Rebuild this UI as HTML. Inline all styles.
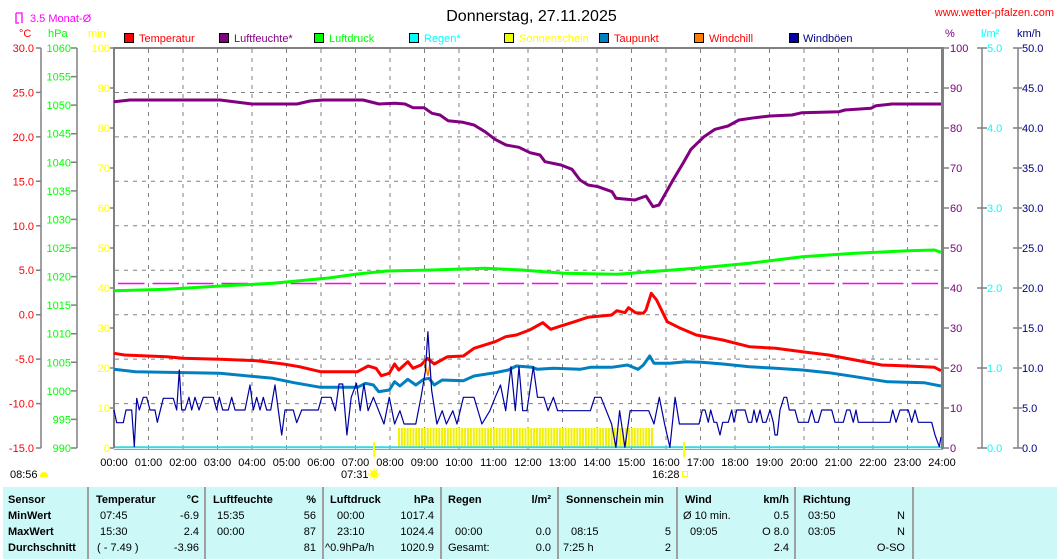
<!DOCTYPE html>
<html><head><meta charset="utf-8"><style>
html,body{margin:0;padding:0;background:#fff;}
svg{display:block;font-family:"Liberation Sans",Arial,sans-serif;}
</style></head><body>
<svg width="1058" height="559" viewBox="0 0 1058 559" xmlns="http://www.w3.org/2000/svg">
<defs>
<pattern id="sun" x="398" y="428" width="2.875" height="20" patternUnits="userSpaceOnUse"><rect x="0" y="0" width="2" height="20" fill="#f0f000"/></pattern>
</defs>
<rect width="1058" height="559" fill="#fff"/>

<!-- Title -->
<text x="531.5" y="21" font-size="16" text-anchor="middle" fill="#000">Donnerstag, 27.11.2025</text>
<text x="1054" y="16" font-size="11" text-anchor="end" fill="#ff0000">www.wetter-pfalzen.com</text>

<!-- top-left monthly avg -->
<path d="M16 13 H22 V23 M16 13 V23 H19" stroke="#ff00ff" stroke-width="1.3" fill="none"/>
<text x="30" y="22" font-size="11" fill="#ff00ff">3.5 Monat-Ø</text>

<!-- units -->
<text x="19" y="37" font-size="11" fill="#ff0000">°C</text>
<text x="48" y="37" font-size="11" fill="#00ff00">hPa</text>
<text x="88" y="37" font-size="11" fill="#ffff00">min</text>
<text x="945" y="37" font-size="11" fill="#800080">%</text>
<text x="981" y="37" font-size="11" fill="#00ffff">l/m²</text>
<text x="1017" y="37" font-size="11" fill="#000080">km/h</text>

<!-- legend -->
<g font-size="11">
<rect x="124.5" y="33.5" width="9" height="9" fill="#ff0000" stroke="#000"/><text x="139" y="42" fill="#ff0000">Temperatur</text>
<rect x="219.5" y="33.5" width="9" height="9" fill="#800080" stroke="#000"/><text x="234" y="42" fill="#800080">Luftfeuchte*</text>
<rect x="314.5" y="33.5" width="9" height="9" fill="#00ff00" stroke="#000"/><text x="329" y="42" fill="#00ff00">Luftdruck</text>
<rect x="409.5" y="33.5" width="9" height="9" fill="#00ffff" stroke="#000"/><text x="424" y="42" fill="#00ffff">Regen*</text>
<rect x="504.5" y="33.5" width="9" height="9" fill="#f0ff00" stroke="#000"/><text x="519" y="42" fill="#ffff00">Sonnenschein</text>
<rect x="599.5" y="33.5" width="9" height="9" fill="#0080c0" stroke="#000"/><text x="614" y="42" fill="#ff0000">Taupunkt</text>
<rect x="694.5" y="33.5" width="9" height="9" fill="#ff8000" stroke="#000"/><text x="709" y="42" fill="#ff0000">Windchill</text>
<rect x="789.5" y="33.5" width="9" height="9" fill="#0000a0" stroke="#000"/><text x="803" y="42" fill="#000080">Windböen</text>
</g>

<!-- gridlines -->
<g stroke="#808080" stroke-width="1" stroke-dasharray="4 5" fill="none">
<path d="M148.5 49V450 M183 49V450 M217.5 49V450 M252 49V450 M286.5 49V450 M321 49V450 M355.5 49V450 M390 49V450 M424.5 49V450 M459 49V450 M493.5 49V450 M528 49V450 M562.5 49V450 M597 49V450 M631.5 49V450 M666 49V450 M700.5 49V450 M735 49V450 M769.5 49V450 M804 49V450 M838.5 49V450 M873 49V450 M907.5 49V450"/>
<path d="M115 92.5H941 M115 136.9H941 M115 181.3H941 M115 225.8H941 M115 270.2H941 M115 314.7H941 M115 359.1H941 M115 403.6H941"/>
</g>

<!-- monthly avg dashed -->
<path d="M118 283.5H942" stroke="#ff00ff" stroke-width="1.5" stroke-dasharray="26.5 8"/>

<!-- plot border -->
<path d="M114 448V48H942" stroke="#808080" stroke-width="2" fill="none"/>
<path d="M942.5 47V449" stroke="#808080" stroke-width="3"/>
<path d="M114 449.5H943" stroke="#a0a0a0" stroke-width="1"/>

<!-- left axes -->
<g stroke="#808080" stroke-width="1.5">
<path d="M41 48V448 M77 48V448"/>
<path d="M36 48H41 M36 92.4H41 M36 136.9H41 M36 181.3H41 M36 225.8H41 M36 270.2H41 M36 314.7H41 M36 359.1H41 M36 403.6H41 M36 448H41"/>
<path d="M71 48H77 M71 76.6H77 M71 105.1H77 M71 133.7H77 M71 162.3H77 M71 190.9H77 M71 219.4H77 M71 248H77 M71 276.6H77 M71 305.1H77 M71 333.7H77 M71 362.3H77 M71 390.9H77 M71 419.4H77 M71 448H77"/>
<path d="M110 48H114 M110 88H114 M110 128H114 M110 168H114 M110 208H114 M110 248H114 M110 288H114 M110 328H114 M110 368H114 M110 408H114 M110 448H114"/>
</g>
<g font-size="11" fill="#ff0000" text-anchor="end">
<text x="34" y="52">30.0</text><text x="34" y="96.4">25.0</text><text x="34" y="140.9">20.0</text><text x="34" y="185.3">15.0</text><text x="34" y="229.8">10.0</text><text x="34" y="274.2">5.0</text><text x="34" y="318.7">0.0</text><text x="34" y="363.1">-5.0</text><text x="34" y="407.6">-10.0</text><text x="34" y="452">-15.0</text>
</g>
<g font-size="11" fill="#00ff00" text-anchor="end">
<text x="71" y="52">1060</text><text x="71" y="80.6">1055</text><text x="71" y="109.1">1050</text><text x="71" y="137.7">1045</text><text x="71" y="166.3">1040</text><text x="71" y="194.9">1035</text><text x="71" y="223.4">1030</text><text x="71" y="252">1025</text><text x="71" y="280.6">1020</text><text x="71" y="309.1">1015</text><text x="71" y="337.7">1010</text><text x="71" y="366.3">1005</text><text x="71" y="394.9">1000</text><text x="71" y="423.4">995</text><text x="71" y="452">990</text>
</g>
<g font-size="11" fill="#ffff00" text-anchor="end">
<text x="110" y="52">100</text><text x="110" y="92">90</text><text x="110" y="132">80</text><text x="110" y="172">70</text><text x="110" y="212">60</text><text x="110" y="252">50</text><text x="110" y="292">40</text><text x="110" y="332">30</text><text x="110" y="372">20</text><text x="110" y="412">10</text><text x="110" y="452">0</text>
</g>

<!-- right axes -->
<g stroke="#808080" stroke-width="1.5">
<path d="M944 48H949 M944 88H949 M944 128H949 M944 168H949 M944 208H949 M944 248H949 M944 288H949 M944 328H949 M944 368H949 M944 408H949 M944 448H949"/>
<path d="M982 48V448 M977 48H987 M977 128H987 M977 208H987 M977 288H987 M977 368H987 M977 448H987"/>
<path d="M1018 48V448 M1013 48H1022 M1013 88H1022 M1013 128H1022 M1013 168H1022 M1013 208H1022 M1013 248H1022 M1013 288H1022 M1013 328H1022 M1013 368H1022 M1013 408H1022 M1013 448H1022"/>
</g>
<g font-size="11" fill="#800080">
<text x="950" y="52">100</text><text x="950" y="92">90</text><text x="950" y="132">80</text><text x="950" y="172">70</text><text x="950" y="212">60</text><text x="950" y="252">50</text><text x="950" y="292">40</text><text x="950" y="332">30</text><text x="950" y="372">20</text><text x="950" y="412">10</text><text x="950" y="452">0</text>
</g>
<g font-size="11" fill="#00ffff">
<text x="987" y="52">5.0</text><text x="987" y="132">4.0</text><text x="987" y="212">3.0</text><text x="987" y="292">2.0</text><text x="987" y="372">1.0</text><text x="987" y="452">0.0</text>
</g>
<g font-size="11" fill="#000080">
<text x="1022" y="52">50.0</text><text x="1022" y="92">45.0</text><text x="1022" y="132">40.0</text><text x="1022" y="172">35.0</text><text x="1022" y="212">30.0</text><text x="1022" y="252">25.0</text><text x="1022" y="292">20.0</text><text x="1022" y="332">15.0</text><text x="1022" y="372">10.0</text><text x="1022" y="412">5.0</text><text x="1022" y="452">0.0</text>
</g>

<!-- sunshine bars -->
<rect x="398" y="428" width="256" height="19" fill="url(#sun)"/>

<!-- rain baseline -->
<path d="M115 447.3H941" stroke="#30dce4" stroke-width="2"/>

<!-- humidity -->
<polyline fill="none" stroke="#800080" stroke-width="3" stroke-linejoin="round" points="114,101.7 130,100 220,100 238,102.3 252,104 297,104 310,101 323,100 363,100 379,104 395,103.3 405,104 413,107.7 424,107.7 432,113.3 440,115 448,120.7 463,122.3 474,125 485,131.7 495,139.3 506,145 519,147.3 530,152.7 540,155 545,161.7 561,165 572,169.3 580,180 588,185 598,186.7 612,191.7 616,198.3 635,200 646,196 653,206.7 659,205 673,180 683,163.3 691,149.3 704,136.7 715,129.3 728,126 739,120 755,117.7 770,116 792,115 802,112.7 839,111.7 845,110 871,108.3 876,105.7 892,104 941,104"/>

<!-- pressure -->
<polyline fill="none" stroke="#00ff00" stroke-width="3" stroke-linejoin="round" points="114,290.7 167,289.3 220,286 273,283.3 326,278.3 357.5,274 386.6,271 431.6,270 484.6,268.3 521.6,270 564,273.3 617,274.3 659.3,271 701.6,267.7 749.3,263.3 802.2,256.7 855.1,253.3 908.1,250.7 934.5,250 941,252.3"/>

<!-- temperature -->
<polyline fill="none" stroke="#ff0000" stroke-width="3" stroke-linejoin="round" points="114,353.3 124.6,355 166.9,356.7 182.8,358.3 219.9,359.3 256.9,360.7 283.4,364 299.3,366.7 320.5,371.7 357.5,371.7 368.1,366 376,368.3 381.3,375.7 389.3,373.3 394.6,364 398.8,370 407.8,361.7 413.1,368.3 421,365 427.4,358.3 434.3,364 447.5,356.7 463.4,356 474,348.3 495.2,341.7 505.7,336.7 516.3,335 529.6,330 542.8,322.7 550.7,329.3 558.7,326.7 574.6,321.7 587.8,317.3 611.6,315 616.9,310.7 624.9,312.7 628.6,307.7 635.4,312.7 643.4,313.3 646,310 651.3,293.3 656.6,300 667.2,321.7 680.4,328.3 696.3,335 722.8,340 749.3,346.7 775.7,348.3 802.2,351.7 828.7,355 855.1,360 881.6,365 908.1,366 934.5,367.3 941,370.7"/>

<!-- dewpoint -->
<polyline fill="none" stroke="#0080c0" stroke-width="3" stroke-linejoin="round" points="114,369.3 135.2,371.7 219.9,373.3 272.8,378.3 294,382.7 320.5,387.3 357.5,387.3 365.5,383.3 373.4,385 378.7,391.7 389.3,390 394.6,381.7 399.9,386 407.8,379.3 415.8,385 423.7,379.3 429,378.3 434.3,385 442.2,380 463.4,380.7 474,376 495.2,372.7 508.4,370 516.3,366 532.2,367.3 537.5,369.3 553.4,368.3 579.9,369.3 590.4,367.3 611.6,367.3 627.5,365 638.1,369.3 643.4,365 649.7,356 654,363.3 669.9,363.3 685.7,361.7 701.6,362.3 722.8,364 749.3,366.7 775.7,368.3 802.2,370 828.7,372.7 855.1,376.7 886.9,381.7 923.9,382.7 941,386"/>

<!-- windchill -->
<polyline fill="none" stroke="#ff8000" stroke-width="1.3" points="425,362 427,372 428,376 430,362"/>

<!-- wind gusts -->
<polyline fill="none" stroke="#0000a0" stroke-width="1.2" stroke-linejoin="round" points="114,410 116.7,422.7 123.3,422.7 126,410 131.7,410 134.3,446.7 136.7,398.3 139.3,410 143.3,397.3 146.7,397.3 150,410 155,410 157.3,422.3 163.3,398.3 173.3,398.3 176.7,410 179.3,370 181.7,410 185,410 189,397.3 191.7,410 195,397.3 199,410 203.3,397.3 213.3,397.3 216.7,410 219.3,397.3 222.7,410 228.3,410 231.7,397.3 235,410 245,410 250,385 253.3,410 256.7,397.3 260,410 263.3,397.3 266.7,410 270.7,410 275,385 278.3,410 281.7,435 285,410 293.3,410 296.7,422.7 301.7,410 318.3,410 321.7,397.3 325.8,397.3 331,397.3 335.3,410.7 339,384 342.7,384 346.9,435 351.2,397.3 356.5,383.3 360.2,410.7 363.9,384 368.1,410.7 373.4,397.3 378.7,410.7 384,424 389.3,397.3 394.6,424 399.9,410.7 404.1,424 415.8,424 421,397.3 425.3,371.7 427.9,331.7 431.6,390 436.9,424 442.2,410.7 446.4,424 452.8,410.7 457,424 463.4,397.3 474,397.3 481.9,424 489.9,410.7 495.2,397.3 500.5,385 505.7,410.7 511,366.7 515.3,410.7 519,366.7 522.7,410.7 526.9,410.7 533.3,366.7 537.5,397.3 543.9,397.3 548.1,410.7 553.4,397.3 557.6,410.7 590.4,410.7 594.7,397.3 601,397.3 606.3,410.7 611.6,424 615.9,447.3 619.6,410.7 624.9,447.3 630.1,410.7 648.7,410.7 654,424 659.3,397.3 664.6,424 669.9,447.3 675.1,397.3 679.4,424 699,424 702.3,410 705,410 708.3,422.3 710.7,410 714,422.3 716.7,422.3 720,435 722.7,422.3 728.3,422.3 731.7,410 734,422.3 736.7,410 745,410 748.3,422.3 751.7,422.3 754,410 756.7,422.3 760,410 762.7,422.3 766,422.3 770,410 773.3,422.3 775,435 777.3,435 780,410 784,397.3 786.7,397.3 789.3,410 795,410 798.3,422.3 808.3,422.3 811.7,410 815,422.3 818.3,422.3 821.7,410 831.7,410 835,422.3 843.3,422.3 846.7,410 850,410 853.3,422.3 856,410 858.3,422.3 890,422.3 892.7,410 896,422.3 900,410 908.3,410 911.7,422.3 915,410 918.3,422.3 931.7,422.3 935,435 939.3,446.7 941,437"/>

<!-- sunrise/sunset marks -->
<path d="M374 442V457 M684 442V457" stroke="#ffff00" stroke-width="2"/>

<!-- x axis labels -->
<g font-size="11" fill="#000" text-anchor="middle">
<text x="114" y="466">00:00</text><text x="148.5" y="466">01:00</text><text x="183" y="466">02:00</text><text x="217.5" y="466">03:00</text><text x="252" y="466">04:00</text><text x="286.5" y="466">05:00</text><text x="321" y="466">06:00</text><text x="355.5" y="466">07:00</text><text x="390" y="466">08:00</text><text x="424.5" y="466">09:00</text><text x="459" y="466">10:00</text><text x="493.5" y="466">11:00</text><text x="528" y="466">12:00</text><text x="562.5" y="466">13:00</text><text x="597" y="466">14:00</text><text x="631.5" y="466">15:00</text><text x="666" y="466">16:00</text><text x="700.5" y="466">17:00</text><text x="735" y="466">18:00</text><text x="769.5" y="466">19:00</text><text x="804" y="466">20:00</text><text x="838.5" y="466">21:00</text><text x="873" y="466">22:00</text><text x="907.5" y="466">23:00</text><text x="942" y="466">24:00</text>
</g>
<g font-size="11" fill="#000">
<text x="10" y="478">08:56</text>
<text x="341" y="478">07:31</text>
<text x="652" y="478">16:28</text>
</g>
<path d="M40 477 Q40 472 44 472 Q48 472 48 477 Z" fill="#ffff00"/>
<circle cx="374" cy="474" r="3.5" fill="#ffff00"/>
<path d="M374 468V480 M368 474H380 M370 470L378 478 M378 470L370 478" stroke="#ffff00" stroke-width="1"/>
<rect x="682.5" y="471.5" width="5" height="5" fill="none" stroke="#ffff00" stroke-width="1"/>

<!-- table -->
<rect x="3" y="487" width="1054" height="72" fill="#ccf8f8"/>
<g stroke="#a0a0a0" stroke-width="2">
<path d="M88 487V559 M205 487V559 M323 487V559 M441 487V559 M558 487V559 M677 487V559 M795 487V559 M913 487V559"/>
</g>
<g font-size="11" font-weight="bold" fill="#000">
<text x="8" y="503">Sensor</text>
<text x="8" y="519">MinWert</text>
<text x="8" y="535">MaxWert</text>
<text x="8" y="551">Durchschnitt</text>
<text x="96" y="503">Temperatur</text>
<text x="199" y="503" text-anchor="end">°C</text>
<text x="213" y="503">Luftfeuchte</text>
<text x="316" y="503" text-anchor="end">%</text>
<text x="330" y="503">Luftdruck</text>
<text x="434" y="503" text-anchor="end">hPa</text>
<text x="448" y="503">Regen</text>
<text x="551" y="503" text-anchor="end">l/m²</text>
<text x="566" y="503">Sonnenschein min</text>
<text x="685" y="503">Wind</text>
<text x="789" y="503" text-anchor="end">km/h</text>
<text x="803" y="503">Richtung</text>
</g>
<g font-size="11" fill="#000">
<text x="100" y="519">07:45</text><text x="199" y="519" text-anchor="end">-6.9</text>
<text x="100" y="535">15:30</text><text x="199" y="535" text-anchor="end">2.4</text>
<text x="97" y="551">( - 7.49 )</text><text x="199" y="551" text-anchor="end">-3.96</text>
<text x="217" y="519">15:35</text><text x="316" y="519" text-anchor="end">56</text>
<text x="217" y="535">00:00</text><text x="316" y="535" text-anchor="end">87</text>
<text x="316" y="551" text-anchor="end">81</text>
<text x="337" y="519">00:00</text><text x="434" y="519" text-anchor="end">1017.4</text>
<text x="337" y="535">23:10</text><text x="434" y="535" text-anchor="end">1024.4</text>
<text x="325" y="551">^0.9hPa/h</text><text x="434" y="551" text-anchor="end">1020.9</text>
<text x="455" y="535">00:00</text><text x="551" y="535" text-anchor="end">0.0</text>
<text x="448" y="551">Gesamt:</text><text x="551" y="551" text-anchor="end">0.0</text>
<text x="571" y="535">08:15</text><text x="671" y="535" text-anchor="end">5</text>
<text x="563" y="551">7:25 h</text><text x="671" y="551" text-anchor="end">2</text>
<text x="683" y="519">Ø 10 min.</text><text x="789" y="519" text-anchor="end">0.5</text>
<text x="690" y="535">09:05</text><text x="789" y="535" text-anchor="end">O 8.0</text>
<text x="789" y="551" text-anchor="end">2.4</text>
<text x="808" y="519">03:50</text><text x="905" y="519" text-anchor="end">N</text>
<text x="808" y="535">03:05</text><text x="905" y="535" text-anchor="end">N</text>
<text x="905" y="551" text-anchor="end">O-SO</text>
</g>
</svg>
</body></html>
